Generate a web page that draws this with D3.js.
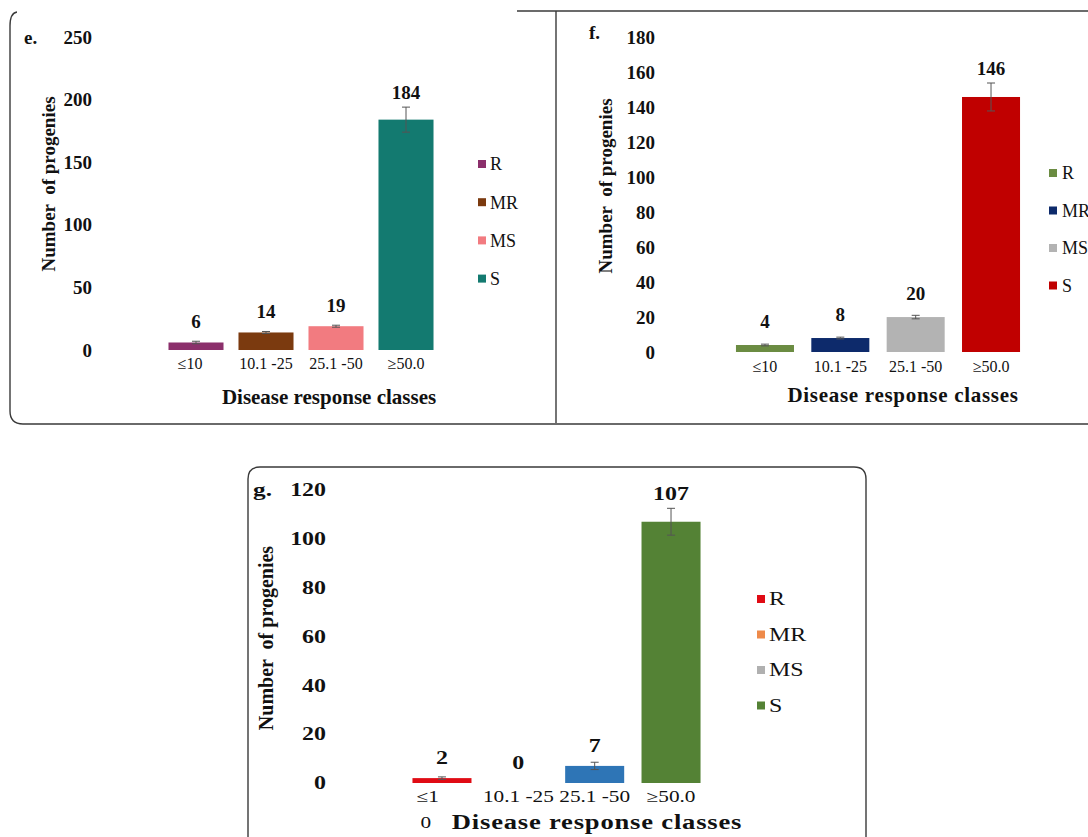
<!DOCTYPE html>
<html>
<head>
<meta charset="utf-8">
<script src="https://cdn.jsdelivr.net/npm/d3@7/dist/d3.min.js"></script>
<style>
  html, body { margin: 0; padding: 0; background: #fff; }
  svg text { font-family: "Liberation Serif", "Times New Roman", "DejaVu Serif", serif; fill: #111; }
  .pre { white-space: pre; }
</style>
</head>
<body>
<svg id="chart" width="1088" height="837" font-family="Liberation Serif, Times New Roman, serif"></svg>
<script>
// ---- data ----
const categories = ["≤10", "10.1 -25", "25.1 -50", "≥50.0"];
const categoriesG = [["≤1", "0"], ["10.1 -25"], ["25.1 -50"], ["≥50.0"]];
const legendLabels = ["R", "MR", "MS", "S"];

const eValues = [6, 14, 19, 184];
const eErrors = [1, 0.8, 0.8, 10];
const eTicks = [0, 50, 100, 150, 200, 250];
const eColors = ["#8b2f6b", "#7b3a0f", "#f27b80", "#137a70"];

const fValues = [4, 8, 20, 146];
const fErrors = [0.5, 0.5, 1, 8];
const fTicks = [0, 20, 40, 60, 80, 100, 120, 140, 160, 180];
const fColors = ["#6b8c42", "#0d2a6b", "#b3b3b3", "#c00000"];

const gValues = [2, 0, 7, 107];
const gErrors = [0.5, 0, 1.5, 5.5];
const gTicks = [0, 20, 40, 60, 80, 100, 120];
const gBarColors = ["#e00b14", "#ee8a4a", "#2e75b6", "#548235"];
const gLegendColors = ["#e00b14", "#ee8a4a", "#b0b0b0", "#548235"];

const svg = d3.select("#chart");
const SERIF = '"Liberation Serif", "Times New Roman", serif';

// ---- panel frames ----
const frame = svg.append("g").attr("fill", "none").attr("stroke", "#3a3a3a").attr("stroke-width", 1.4);
frame.append("path").attr("d", "M17,12 Q10,13 10,26 L10,411 Q10,424 23,424 L1088,424");
frame.append("path").attr("d", "M517,11 L1088,11");
frame.append("path").attr("d", "M556,11 L556,423");
frame.append("path").attr("d", "M248,837 L248,479 Q248,467 260,467 L854,467 Q866,467 866,479 L866,837");

// text placed at (x, y), vertically centred, optionally widened by sx
function label(parent, x, y, str, o) {
  const t = parent.append("text")
    .attr("transform", `translate(${x},${y}) scale(${o.sx || 1},1)`)
    .attr("dy", "0.35em")
    .attr("text-anchor", o.anchor || "middle")
    .style("font-family", SERIF)
    .style("font-size", o.size + "px")
    .style("font-weight", o.bold ? "bold" : "normal")
    .style("letter-spacing", (o.spacing || 0) + "px");
  if (str !== null) t.text(str);
  return t;
}

function drawPanel(p) {
  const g = svg.append("g");
  const sx = p.stretch;
  const x = d3.scaleBand().domain(d3.range(p.values.length))
    .range(p.xRange).paddingInner(p.padIn).paddingOuter(p.padIn / 2);
  const y = d3.scaleLinear().domain(p.yDomain).range(p.yRange);
  const cx = i => x(i) + x.bandwidth() / 2;

  // y axis: labels only
  const yAxis = g.append("g").attr("transform", `translate(${p.axisX},0)`)
    .call(d3.axisLeft(y).tickValues(p.ticks).tickSize(0).tickPadding(0));
  yAxis.attr("font-family", null).attr("font-size", null);
  yAxis.select(".domain").remove();
  yAxis.selectAll("text")
    .attr("x", 0).attr("transform", `scale(${sx},1)`)
    .style("font-family", SERIF)
    .style("font-weight", "bold").style("font-size", p.tickSize + "px").attr("fill", "#111");

  // bars
  g.selectAll("rect.bar").data(p.values).join("rect").attr("class", "bar")
    .attr("x", (d, i) => x(i)).attr("width", x.bandwidth())
    .attr("y", d => y(d)).attr("height", d => y(0) - y(d))
    .attr("fill", (d, i) => p.barColors[i]);

  // error bars
  const eb = g.append("g").attr("stroke", "#555").attr("stroke-width", 1).attr("fill", "none");
  p.values.forEach((v, i) => {
    const e = p.errors[i];
    if (!e) return;
    const c = cx(i);
    eb.append("line").attr("x1", c).attr("x2", c).attr("y1", y(v + e)).attr("y2", y(v - e));
    eb.append("line").attr("x1", c - 4).attr("x2", c + 4).attr("y1", y(v + e)).attr("y2", y(v + e));
    eb.append("line").attr("x1", c - 4).attr("x2", c + 4).attr("y1", y(v - e)).attr("y2", y(v - e));
  });

  // value labels
  p.values.forEach((v, i) => {
    const gap = Math.max(p.labelGap, (y(v) - y(v + p.errors[i])) + 15);
    label(g, cx(i), y(v) - gap, v, { size: p.valSize, bold: true, sx });
  });

  // category labels
  p.cats.forEach((c, i) => {
    const lines = Array.isArray(c) ? c : [c];
    if (lines.length > 1) {
      const t = label(g, x(i) + 4, p.catY, null, { size: p.catSize, anchor: "start", sx, spacing: p.catSpacing });
      lines.forEach((ln, k) => t.append("tspan")
        .attr("x", k * 4 / sx).attr("dy", k ? "1.65em" : null).text(ln));
    } else {
      label(g, cx(i) + (p.catShift[i] || 0), p.catY, lines[0], { size: p.catSize, sx, spacing: p.catSpacing });
    }
  });

  // axis titles
  label(g, p.xTitle[0], p.xTitle[1], "Disease response classes",
    { size: p.titleSize, bold: true, sx, spacing: p.titleSpacing });
  g.append("text").attr("class", "pre")
    .attr("transform", `translate(${p.yTitle[0]},${p.yTitle[1]}) rotate(-90)`)
    .attr("dy", "0.35em").attr("text-anchor", "middle")
    .style("font-family", SERIF)
    .style("font-weight", "bold").style("font-size", p.yTitleSize + "px")
    .text("Number  of progenies");

  // panel letter
  label(g, p.letterPos[0], p.letterPos[1], p.letter, { size: 19, bold: true, anchor: "start", sx });

  // legend
  legendLabels.forEach((lab, i) => {
    const ly = p.legend[1] + i * p.legend[2];
    g.append("rect").attr("x", p.legend[0]).attr("y", ly - 4).attr("width", 8).attr("height", 8)
      .attr("fill", p.legendColors[i]);
    label(g, p.legend[0] + p.legend[3], ly, lab, { size: p.legendSize, anchor: "start", sx });
  });
}

drawPanel({
  values: eValues, errors: eErrors, ticks: eTicks, cats: categories, catShift: [-6],
  barColors: eColors, legendColors: eColors, letter: "e.", stretch: 1,
  xRange: [161, 441], padIn: 0.214, yDomain: [0, 250], yRange: [350, 37], axisX: 92,
  tickSize: 19, valSize: 19, catSize: 16, catSpacing: 0, catY: 363,
  titleSize: 21, titleSpacing: 0, yTitleSize: 19, xTitle: [329, 397], yTitle: [48, 184],
  labelGap: 21, letterPos: [24, 37], legend: [478, 164, 38.2, 12], legendSize: 18
});

drawPanel({
  values: fValues, errors: fErrors, ticks: fTicks, cats: categories, catShift: [0],
  barColors: fColors, legendColors: fColors, letter: "f.", stretch: 1,
  xRange: [727.3, 1028.7], padIn: 0.23, yDomain: [0, 180], yRange: [352, 37.6], axisX: 655,
  tickSize: 19, valSize: 19, catSize: 16, catSpacing: 0, catY: 366,
  titleSize: 21, titleSpacing: 0.7, yTitleSize: 19, xTitle: [903, 395], yTitle: [605, 186],
  labelGap: 24, letterPos: [589, 32], legend: [1049, 173, 37.5, 13], legendSize: 18
});

drawPanel({
  values: gValues, errors: gErrors, ticks: gTicks, cats: categoriesG, catShift: [0],
  barColors: gBarColors, legendColors: gLegendColors, letter: "g.", stretch: 1.33,
  xRange: [403.8, 709.2], padIn: 0.227, yDomain: [0, 120], yRange: [783, 490], axisX: 326,
  tickSize: 18, valSize: 18, catSize: 16, catSpacing: 0, catY: 796,
  titleSize: 20, titleSpacing: 0.6, yTitleSize: 20, xTitle: [597, 822], yTitle: [266, 638],
  labelGap: 20, letterPos: [253, 489], legend: [757, 599, 35.5, 12], legendSize: 18
});
</script>
</body>
</html>
